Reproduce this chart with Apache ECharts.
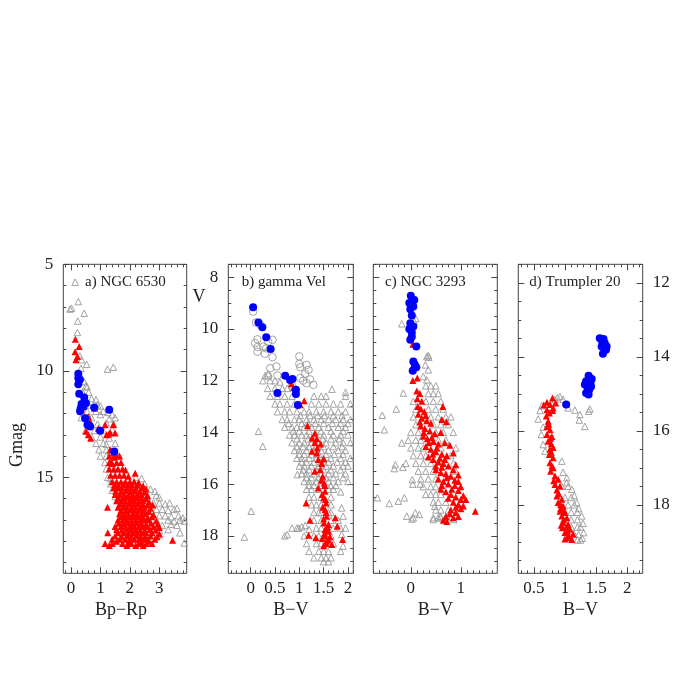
<!DOCTYPE html>
<html>
<head>
<meta charset="utf-8">
<script src="https://cdn.jsdelivr.net/npm/echarts@6/dist/echarts.min.js"></script>
<style>
  html, body { margin: 0; padding: 0; background: #fff; }
  #chart { width: 678px; height: 678px; }
</style>
</head>
<body>
<div id="chart"></div>
<script>
// ---- a) NGC 6530 : Gmag vs Bp-Rp
const ngc6530Field = [
  [0.14,5.84],[0.25,6.75],[0.02,7.06],[-0.03,7.1],[0.45,7.3],[0.23,7.66],[0.22,8.2],[0.3,9.3],[0.36,9.48],
  [0.53,9.69],[0.34,9.88],[1.24,9.92],[1.44,9.83],[0.51,10.7],[0.35,10.3],[0.45,10.5],[0.55,10.75],[0.4,11.0],
  [0.6,11.0],[0.5,11.3],[0.7,11.3],[0.85,11.35],[0.6,11.6],[0.9,11.6],[1.0,11.65],[0.55,11.9],[0.85,11.9],
  [1.1,11.9],[1.25,11.95],[1.0,12.05],[1.4,12.05],[0.35,12.2],[0.7,12.2],[1.3,12.25],[1.5,12.2],[0.6,12.5],
  [0.9,12.5],[1.2,12.45],[1.45,12.5],[0.5,12.8],[0.8,12.8],[1.1,12.8],[1.4,12.75],[0.7,13.1],[1.0,13.1],
  [1.3,13.15],[0.85,13.4],[1.1,13.4],[1.2,13.45],[1.5,13.4],[0.95,13.7],[1.2,13.7],[1.35,13.75],[1.0,14.0],
  [1.2,14.0],[1.45,14.05],[1.6,14.0],[1.15,14.3],[1.35,14.3],[1.2,14.6],[1.5,14.6],[1.25,15.0],[1.35,15.05],
  [2.2,15.0],[2.4,15.05],[1.35,15.3],[2.3,15.3],[2.5,15.3],[1.4,15.6],[2.5,15.6],[2.7,15.55],[2.85,15.65],
  [1.5,15.9],[2.6,15.9],[2.9,15.85],[3.0,15.95],[2.8,16.2],[3.0,16.2],[3.2,16.25],[3.35,16.2],[2.9,16.5],
  [3.1,16.5],[3.3,16.55],[3.5,16.5],[3.6,16.45],[3.0,16.8],[3.2,16.8],[3.4,16.85],[3.65,16.8],[3.8,16.9],
  [2.9,17.0],[3.3,17.0],[3.5,17.05],[3.7,17.0],[3.85,17.05],[3.1,17.25],[3.4,17.2],[3.6,17.25],[2.8,17.5],
  [3.0,17.5],[3.3,17.45],[2.6,17.75],[3.0,17.7],[3.7,17.6],[1.9,18.05],[2.2,18.1],[3.85,18.08]
];
const ngc6530Members = [
  [0.15,8.52],[0.28,8.86],[0.14,9.1],[0.22,9.33],[0.17,9.48],
  [0.36,11.83],[0.59,12.14],[0.65,12.38],[0.51,12.84],[0.59,13.0],[0.67,13.16],[0.93,12.69],[1.16,12.53],
  [1.21,13.0],[1.28,12.98],[1.33,12.89],[1.44,12.53],[1.5,12.92],[0.8,11.75],[1.33,13.7],[1.44,13.86],
  [1.55,14.0],[1.37,14.3],
  [1.3,14.0],[1.45,14.05],[1.65,14.0],
  [1.3,14.3],[1.4,14.35],[1.55,14.3],[1.7,14.3],
  [1.3,14.6],[1.45,14.6],[1.6,14.6],[1.75,14.6],[1.85,14.65],
  [1.35,14.9],[1.5,14.9],[1.65,14.9],[1.8,14.9],[1.95,14.95],[2.18,14.8],
  [1.4,15.2],[1.55,15.2],[1.7,15.2],[1.85,15.2],[2.0,15.2],[2.15,15.2],[2.3,15.25],
  [1.48,15.35],[1.62,15.38],[1.78,15.33],[1.93,15.36],[2.08,15.34],[2.25,15.37],[2.45,15.4],
  [1.45,15.5],[1.6,15.5],[1.75,15.5],[1.9,15.5],[2.05,15.5],[2.2,15.5],[2.4,15.5],[2.55,15.55],
  [1.52,15.65],[1.7,15.67],[1.86,15.63],[2.02,15.66],[2.17,15.64],[2.33,15.68],[2.5,15.7],
  [1.5,15.8],[1.65,15.8],[1.8,15.8],[1.95,15.8],[2.1,15.8],[2.25,15.8],[2.4,15.8],[2.6,15.85],
  [1.6,15.95],[1.77,15.97],[1.92,15.93],[2.07,15.96],[2.22,15.94],[2.38,15.98],[2.55,16.0],
  [1.55,16.1],[1.7,16.1],[1.85,16.1],[2.0,16.1],[2.15,16.1],[2.3,16.1],[2.45,16.1],[2.65,16.15],
  [1.66,16.25],[1.82,16.27],[1.97,16.23],[2.12,16.26],[2.27,16.24],[2.43,16.28],[2.6,16.3],[2.78,16.3],
  [1.24,16.4],[1.6,16.4],[1.75,16.4],[1.9,16.4],[2.05,16.4],[2.2,16.4],[2.35,16.4],[2.5,16.4],[2.7,16.45],
  [1.7,16.55],[1.87,16.57],[2.02,16.53],[2.17,16.56],[2.32,16.54],[2.48,16.58],[2.65,16.6],
  [1.65,16.7],[1.8,16.7],[1.95,16.7],[2.1,16.7],[2.25,16.7],[2.4,16.7],[2.55,16.7],[2.8,16.75],
  [1.68,16.85],[1.83,16.87],[1.98,16.83],[2.13,16.86],[2.28,16.84],[2.43,16.88],[2.6,16.9],[2.75,16.85],
  [1.6,17.0],[1.75,17.0],[1.9,17.0],[2.05,17.0],[2.2,17.0],[2.35,17.0],[2.5,17.0],[2.65,17.0],[2.9,17.05],
  [1.62,17.15],[1.78,17.17],[1.93,17.13],[2.08,17.16],[2.23,17.14],[2.38,17.18],[2.55,17.2],[2.72,17.15],[2.95,17.2],
  [1.5,17.3],[1.7,17.3],[1.85,17.3],[2.0,17.3],[2.15,17.3],[2.3,17.3],[2.45,17.3],[2.6,17.3],[2.8,17.3],[3.0,17.35],
  [1.55,17.45],[1.73,17.47],[1.9,17.43],[2.05,17.46],[2.2,17.44],[2.35,17.48],[2.5,17.5],[2.68,17.45],[2.88,17.47],
  [1.25,17.6],[1.6,17.6],[1.8,17.6],[1.95,17.6],[2.1,17.6],[2.25,17.6],[2.4,17.6],[2.55,17.6],[2.75,17.6],[3.0,17.65],
  [1.5,17.75],[1.72,17.77],[1.9,17.73],[2.05,17.76],[2.22,17.74],[2.37,17.78],[2.52,17.8],[2.7,17.75],[2.92,17.78],
  [1.4,17.9],[1.65,17.9],[1.85,17.9],[2.0,17.9],[2.15,17.9],[2.3,17.9],[2.45,17.9],[2.6,17.9],[2.85,17.9],[3.45,17.95],
  [1.55,18.0],[1.95,18.05],[2.4,18.05],[2.65,18.0],
  [1.16,18.1],[1.4,18.1],[1.75,18.1],[2.05,18.1],[2.3,18.1],[2.55,18.1],[2.75,18.1],
  [1.3,18.2],[1.9,18.2],[2.2,18.2],[2.45,18.2]
];
const ngc6530Blue = [
  [0.25,10.14],[0.25,10.34],[0.3,10.42],[0.25,10.63],[0.28,11.08],[0.45,11.25],[0.36,11.55],[0.51,11.52],
  [0.33,11.75],[0.42,11.68],[0.31,11.9],[0.79,11.72],[1.3,11.83],[0.48,12.22],[0.56,12.53],[0.65,12.61],
  [0.99,12.81],[1.47,13.78]
];
const ngc6530XTicks = [0, 1, 2, 3];
const ngc6530YTicks = [5, 10, 15];

// ---- b) gamma Vel : V vs B-V
const gammaVelField = [
  [0.36,11.73],[0.3,11.8],[0.25,12.0],[0.4,12.0],[0.5,12.0],[0.6,12.05],[0.35,12.3],[0.5,12.3],[0.65,12.3],[0.75,12.3],
  [0.4,12.6],[0.55,12.6],[0.7,12.6],[0.85,12.6],[1.3,12.6],[1.45,12.6],[1.55,12.6],[1.95,12.6],[1.67,12.33],[1.95,12.45],
  [0.5,12.9],[0.6,12.9],[0.75,12.9],[0.9,12.9],[1.25,12.9],[1.4,12.9],[1.55,12.9],[1.7,12.9],[1.85,12.9],[2.05,12.9],
  [0.55,13.2],[0.7,13.2],[0.8,13.2],[0.95,13.2],[1.1,13.2],[1.2,13.2],[1.35,13.2],[1.5,13.2],[1.65,13.2],[1.8,13.2],[1.95,13.2],
  [1.02,13.35],[1.22,13.35],[1.38,13.35],[1.52,13.35],[1.7,13.35],[1.88,13.35],
  [0.65,13.5],[0.75,13.5],[0.9,13.5],[1.0,13.5],[1.15,13.5],[1.3,13.5],[1.45,13.5],[1.6,13.5],[1.75,13.5],[1.9,13.5],[2.05,13.5],
  [0.78,13.65],[1.05,13.65],[1.18,13.65],[1.33,13.65],[1.5,13.65],[1.68,13.65],[1.85,13.65],[2.0,13.65],
  [0.7,13.8],[0.85,13.8],[0.95,13.8],[1.1,13.8],[1.25,13.8],[1.4,13.8],[1.6,13.8],[1.8,13.8],[1.95,13.8],
  [0.88,13.95],[1.0,13.95],[1.2,13.95],[1.45,13.95],[1.65,13.95],[1.9,13.95],
  [0.8,14.1],[0.9,14.1],[1.05,14.1],[1.15,14.1],[1.35,14.1],[1.5,14.1],[1.7,14.1],[1.85,14.1],[2.0,14.1],
  [0.95,14.25],[1.18,14.25],[1.3,14.25],[1.48,14.25],[1.65,14.25],[1.82,14.25],
  [0.85,14.4],[1.0,14.4],[1.1,14.4],[1.25,14.4],[1.4,14.4],[1.55,14.4],[1.75,14.4],[1.9,14.4],[2.05,14.4],
  [0.95,14.55],[1.08,14.55],[1.2,14.55],[1.35,14.55],[1.5,14.55],[1.7,14.55],[1.88,14.55],
  [0.9,14.7],[1.0,14.7],[1.15,14.7],[1.3,14.7],[1.45,14.7],[1.6,14.7],[1.8,14.7],[1.95,14.7],
  [1.0,14.85],[1.1,14.85],[1.25,14.85],[1.4,14.85],[1.55,14.85],[1.72,14.85],[1.9,14.85],
  [0.95,15.0],[1.05,15.0],[1.2,15.0],[1.35,15.0],[1.5,15.0],[1.65,15.0],[1.85,15.0],[2.05,15.0],
  [1.05,15.15],[1.15,15.15],[1.3,15.15],[1.45,15.15],[1.6,15.15],[1.78,15.15],[1.95,15.15],
  [1.0,15.3],[1.1,15.3],[1.25,15.3],[1.4,15.3],[1.55,15.3],[1.7,15.3],[1.9,15.3],[2.0,15.3],
  [1.08,15.45],[1.2,15.45],[1.35,15.45],[1.5,15.45],[1.65,15.45],[1.85,15.45],
  [1.05,15.6],[1.15,15.6],[1.3,15.6],[1.45,15.6],[1.6,15.6],[1.75,15.6],[1.95,15.6],
  [1.15,15.75],[1.25,15.75],[1.4,15.75],[1.55,15.75],[1.7,15.75],[1.9,15.75],
  [1.1,15.9],[1.2,15.9],[1.35,15.9],[1.6,15.9],[1.8,15.9],[2.0,15.9],
  [1.2,16.05],[1.3,16.05],[1.45,16.05],[1.65,16.05],[1.75,16.05],
  [1.15,16.2],[1.25,16.2],[1.4,16.2],[1.6,16.2],[1.7,16.2],[1.85,16.3],
  [1.2,16.5],[1.3,16.5],[1.45,16.5],[1.65,16.5],
  [1.25,16.8],[1.35,16.8],[1.45,16.8],[1.65,16.8],[1.87,16.92],
  [1.3,17.1],[1.4,17.1],[1.45,17.1],[1.6,17.1],[1.65,17.1],[1.9,17.24],
  [1.3,17.4],[1.45,17.4],[1.65,17.4],[1.8,17.4],
  [0.85,17.7],[0.95,17.7],[1.05,17.65],[1.12,17.6],[1.2,17.75],[1.35,17.7],[1.45,17.7],[1.7,17.7],[1.85,17.7],[1.95,17.7],
  [0.75,17.95],[0.7,18.0],[1.1,18.0],[1.3,18.0],[1.4,18.0],[1.65,18.0],[1.87,17.95],
  [1.15,18.3],[1.35,18.3],[1.45,18.3],[1.6,18.3],[1.7,18.3],[1.9,18.4],
  [1.2,18.6],[1.4,18.6],[1.5,18.6],[1.6,18.6],[1.85,18.6],
  [1.3,18.85],[1.45,18.85],[1.55,18.85],[1.65,18.85],[1.5,19.0],[1.6,19.0],
  [0.16,13.96],[0.25,14.54],[0.96,15.63],[0.01,17.05],[-0.13,18.05],[0.99,17.7]
];
const gammaVelOpen = [
  [0.05,9.33],[0.11,9.75],[0.2,9.85],[0.14,10.4],[0.09,10.55],[0.14,10.7],[0.14,10.88],[0.26,10.68],[0.32,10.75],
  [0.36,10.49],[0.45,10.42],[0.29,10.96],[0.45,11.09],[0.4,11.52],[0.53,11.45],[0.36,11.84],[0.55,11.8],
  [1.0,11.06],[1.0,11.35],[1.02,11.48],[1.15,11.39],[1.12,11.73],[1.19,11.58],[1.02,11.9],[1.15,12.1],
  [1.29,12.16],[1.22,11.95],[0.85,12.2],[1.08,12.0]
];
const gammaVelMembers = [
  [0.84,12.12],[0.88,12.27],[1.02,12.93],[1.1,12.78],[1.17,13.74],[1.32,14.03],[1.26,14.22],[1.32,14.39],
  [1.26,14.73],[1.37,14.6],[1.36,14.8],[1.39,15.05],[1.5,15.03],[1.32,15.5],[1.46,15.2],[1.43,15.44],
  [1.48,15.7],[1.51,15.96],[1.39,16.15],[1.53,16.28],[1.5,16.53],[1.55,16.73],[1.14,16.73],[1.53,16.98],
  [1.56,17.24],[1.51,17.5],[1.6,17.56],[1.74,17.3],[1.22,17.4],[1.53,17.76],[1.6,17.82],[1.78,17.63],
  [1.53,18.01],[1.63,18.04],[1.19,17.98],[1.34,18.08],[1.56,18.21],[1.67,18.34],[1.89,18.14],[1.5,18.38],
  [1.48,16.9],[1.55,17.1],[1.5,17.35],[1.58,17.65],[1.52,17.9],[1.6,18.15],[1.55,18.3],[1.47,18.1],
  [1.52,16.05],[1.47,16.4],[1.54,16.6],[1.45,15.85],[1.44,14.45],[1.36,14.25]
];
const gammaVelBlue = [
  [0.05,9.16],[0.16,9.75],[0.24,9.93],[0.32,10.32],[0.41,10.78],[0.71,11.81],[0.81,11.97],[0.86,11.94],
  [0.93,12.35],[0.93,12.52],[0.55,12.48],[0.97,12.94]
];
const gammaVelXTicks = [0, 0.5, 1, 1.5, 2];
const gammaVelYTicks = [8, 10, 12, 14, 16, 18];

// ---- c) NGC 3293 : V vs B-V
const ngc3293Field = [
  [-0.18,7.8],[0.07,7.71],[0.1,7.6],[0.32,9.07],[0.36,9.1],[0.35,9.02],[0.29,9.39],[0.35,9.58],[0.25,9.84],[0.32,9.97],
  [0.3,10.2],[0.4,10.2],[0.5,10.2],[0.35,10.5],[0.45,10.5],[0.55,10.5],
  [0.05,10.8],[0.3,10.8],[0.45,10.8],[0.6,10.8],[0.1,11.1],[0.35,11.1],[0.5,11.1],[0.65,11.1],
  [0.05,11.4],[0.4,11.4],[0.55,11.4],[0.7,11.4],[0.8,11.4],[0.1,11.7],[0.45,11.7],[0.6,11.7],[0.75,11.7],
  [0.0,12.0],[0.15,12.0],[0.5,12.0],[0.65,12.0],[0.85,12.0],[-0.05,12.3],[0.1,12.3],[0.2,12.3],[0.55,12.3],[0.7,12.3],
  [0.0,12.6],[0.15,12.6],[0.25,12.6],[0.6,12.6],[0.9,12.6],[0.05,12.9],[0.2,12.9],[0.3,12.9],[0.8,12.9],
  [-0.1,13.2],[0.1,13.2],[0.25,13.2],[0.4,13.2],[0.85,13.2],[0.15,13.5],[0.3,13.5],[0.45,13.5],[0.9,13.5],
  [0.2,13.8],[0.35,13.8],[0.5,13.8],[0.25,14.1],[0.4,14.1],[0.5,14.1],[0.3,14.4],[0.4,14.4],[0.5,14.4],[0.6,14.4],
  [0.45,14.7],[0.55,14.7],[0.7,14.7],[1.0,14.7],[0.5,15.0],[0.6,15.0],[0.75,15.0],[0.45,15.3],[0.55,15.3],[0.6,15.3],[0.8,15.3],
  [-0.15,10.48],[-0.29,11.1],[-0.57,11.34],[-0.53,11.9],[-0.18,12.41],[-0.31,13.25],[-0.33,13.4],[-0.16,13.35],
  [0.03,13.83],[0.04,14.0],[0.19,14.0],[-0.67,14.53],[-0.43,14.75],[-0.25,14.66],[-0.13,14.53],[-0.08,15.24],
  [0.09,15.11],[0.17,15.17],[0.05,15.3],[0.02,15.35],[0.45,15.37],[0.48,14.86],[0.59,15.24],[0.72,15.27],[0.86,15.37]
];
const ngc3293Members = [
  [0.04,8.59],[0.02,9.52],[0.04,9.99],[0.13,9.9],
  [0.12,10.4],[0.18,10.5],[0.13,10.7],[0.22,10.8],[0.14,11.0],[0.2,11.1],[0.27,11.2],[0.15,11.3],[0.22,11.45],
  [0.32,11.55],[0.4,11.65],[0.71,11.59],[0.62,11.5],[0.64,11.0],[0.2,11.75],[0.28,11.85],[0.38,11.95],[0.48,12.05],
  [0.6,12.0],[0.25,12.15],[0.33,12.25],[0.45,12.35],[0.55,12.45],[0.68,12.4],[0.78,12.5],[0.3,12.55],[0.4,12.65],
  [0.5,12.75],[0.62,12.85],[0.72,12.9],[0.85,12.8],[0.35,12.95],[0.45,13.05],[0.55,13.15],[0.65,13.2],[0.75,13.3],
  [0.9,13.25],[0.5,13.45],[0.6,13.55],[0.7,13.6],[0.8,13.7],[0.95,13.65],[0.55,13.8],[0.65,13.9],[0.75,14.0],
  [0.88,14.05],[1.0,14.1],[0.95,13.9],[0.6,14.2],[0.7,14.3],[0.8,14.4],[0.9,14.5],[1.05,14.45],[0.85,14.7],
  [0.95,14.8],[1.1,14.6],[0.8,15.0],[0.9,15.1],[1.0,14.95],[0.7,15.25],[0.85,15.3],[0.65,15.4],[1.29,15.05],
  [0.18,11.6],[0.3,11.35],[0.26,12.0],[0.42,12.2],[0.36,12.4],[0.52,12.6],[0.44,12.85],[0.58,13.0],[0.68,13.05],
  [0.5,13.3],[0.62,13.35],[0.85,13.45],[0.72,13.75],[0.88,13.85],[0.82,14.2],[0.95,14.25],[0.75,14.55],[1.0,14.6],
  [0.9,14.9],[0.78,15.15],[0.95,15.25],[0.72,15.45],[1.05,14.85],[0.62,14.05]
];
const ngc3293Blue = [
  [0.0,6.72],[0.07,6.88],[-0.03,7.0],[0.05,7.13],[-0.01,7.24],[0.02,7.48],[-0.01,7.78],[0.05,7.91],[-0.03,8.0],
  [0.02,8.14],[0.02,8.3],[-0.01,8.42],[0.11,8.68],[0.05,9.26],[0.08,9.38],[0.11,9.48],[0.04,9.62]
];
const ngc3293XTicks = [0, 1];
const ngc3293YTicks = [6, 8, 10, 12, 14, 16];

// ---- d) Trumpler 20 : V vs B-V
const trumpler20Field = [
  [0.92,15.07],[0.88,15.1],[0.84,15.16],[0.97,15.15],[0.63,15.32],[0.6,15.45],[1.05,15.38],[1.16,15.44],[1.24,15.56],
  [1.23,15.71],[1.32,15.88],[1.38,15.47],[1.4,15.41],[0.57,15.68],[0.65,15.9],[0.62,16.1],[0.65,16.37],[0.68,16.55],
  [0.95,16.82],[0.97,17.12],[1.03,17.27],[1.03,17.4],[1.11,17.58],[1.15,17.75],[1.19,17.94],[1.22,18.1],[1.27,18.3],
  [1.29,18.5],[1.3,18.75],[1.28,18.9],[0.95,17.5],[1.05,17.5],[1.0,17.8],[1.1,17.8],[1.05,18.0],[1.15,18.0],
  [1.1,18.2],[1.2,18.2],[1.1,18.4],[1.2,18.4],[1.1,18.6],[1.2,18.6],[1.25,18.6],[1.15,18.8],[1.22,18.8],[1.2,18.95],[1.25,18.95]
];
const trumpler20Members = [
  [0.8,15.11],[0.71,15.23],[0.76,15.29],[0.81,15.38],[0.71,15.43],[0.75,15.52],[0.8,15.45],[0.66,15.3],[0.85,15.25],
  [0.7,15.6],[0.73,15.74],[0.74,15.82],[0.71,15.88],[0.76,15.97],[0.71,16.1],[0.79,16.15],[0.77,16.2],[0.73,16.28],
  [0.78,16.35],[0.81,16.45],[0.76,16.5],[0.78,16.58],[0.75,16.64],[0.81,16.73],[0.76,16.86],[0.79,16.95],[0.81,17.0],
  [0.77,17.09],[0.84,17.22],[0.89,17.31],[0.82,17.35],[0.84,17.45],[0.92,17.49],[0.87,17.6],[0.9,17.7],[0.87,17.76],
  [0.95,17.85],[0.89,17.94],[0.93,18.0],[0.97,18.03],[0.93,18.1],[0.99,18.15],[0.92,18.17],[1.0,18.21],[0.95,18.3],
  [1.03,18.35],[0.98,18.4],[0.97,18.48],[1.05,18.53],[0.94,18.55],[1.02,18.6],[0.96,18.62],[1.08,18.66],[1.04,18.72],
  [1.0,18.75],[1.13,18.79],[1.06,18.85],[1.03,18.89],[1.0,18.92],[1.11,18.94]
];
const trumpler20Blue = [
  [1.56,13.5],[1.62,13.52],[1.6,13.6],[1.64,13.63],[1.67,13.72],[1.59,13.72],[1.66,13.81],[1.61,13.92],
  [1.38,14.51],[1.4,14.57],[1.43,14.6],[1.34,14.66],[1.41,14.71],[1.32,14.75],[1.36,14.8],[1.42,14.8],
  [1.37,14.85],[1.39,14.89],[1.34,14.98],[1.38,15.02],[1.02,15.29]
];
const trumpler20XTicks = [0.5, 1, 1.5, 2];
const trumpler20YTicks = [12, 14, 16, 18];

const FONT = '"Liberation Serif", "DejaVu Serif", serif';
const INK = '#222';
const FRAME = '#444';

function steps(from, to, step) {
  const out = [];
  for (let v = from; v <= to + 1e-9; v += step) out.push(+v.toFixed(4));
  return out;
}

const panels = [
  { rect: { left: 63.3, top: 264.3, width: 123.4, height: 309 },
    x: [-0.26, 3.93], xMajor: ngc6530XTicks, xMinor: steps(-0.2, 3.8, 0.2),
    y: [5, 19.5], yMajor: ngc6530YTicks, yMinor: steps(5, 19, 1), yLabelSide: 'left',
    field: ngc6530Field, members: ngc6530Members, blue: ngc6530Blue },
  { rect: { left: 228.3, top: 264.3, width: 125, height: 309 },
    x: [-0.46, 2.11], xMajor: gammaVelXTicks, xMinor: steps(-0.4, 2.1, 0.1),
    y: [7.5, 19.45], yMajor: gammaVelYTicks, yMinor: steps(7.5, 19.0, 0.5), yLabelSide: 'left',
    field: gammaVelField, open: gammaVelOpen, members: gammaVelMembers, blue: gammaVelBlue },
  { rect: { left: 373.3, top: 264.3, width: 124, height: 309 },
    x: [-0.75, 1.73], xMajor: ngc3293XTicks, xMinor: steps(-0.75, 1.625, 0.125),
    y: [5.5, 17.45], yMajor: ngc3293YTicks, yMinor: steps(5.5, 17.0, 0.5), yLabelSide: null,
    field: ngc3293Field, members: ngc3293Members, blue: ngc3293Blue },
  { rect: { left: 518.3, top: 264.3, width: 124.4, height: 309 },
    x: [0.25, 2.25], xMajor: trumpler20XTicks, xMinor: steps(0.3, 2.2, 0.1),
    y: [11.5, 19.85], yMajor: trumpler20YTicks, yMinor: steps(11.5, 19.5, 0.5), yLabelSide: 'right',
    field: trumpler20Field, members: trumpler20Members, blue: trumpler20Blue }
];

function makeAxis(gridIndex, position, lim, ticks, len, labels, inverse) {
  return {
    type: 'value', gridIndex, position, min: lim[0], max: lim[1], inverse: !!inverse,
    axisLine: { show: false, onZero: false },
    splitLine: { show: false },
    axisTick: { show: true, inside: true, length: len, customValues: ticks,
                lineStyle: { color: FRAME, width: 1 } },
    axisLabel: labels
      ? { show: true, customValues: labels, margin: position === 'bottom' ? 7 : 10,
          color: INK, fontFamily: FONT, fontSize: 17 }
      : { show: false }
  };
}

const grids = [], xAxes = [], yAxes = [], series = [];
panels.forEach((p, i) => {
  grids.push(Object.assign({ show: true, borderColor: FRAME, borderWidth: 1, containLabel: false }, p.rect));
  xAxes.push(makeAxis(i, 'bottom', p.x, p.xMajor, 6, p.xMajor));
  xAxes.push(makeAxis(i, 'bottom', p.x, p.xMinor, 3, null));
  xAxes.push(makeAxis(i, 'top', p.x, p.xMajor, 6, null));
  xAxes.push(makeAxis(i, 'top', p.x, p.xMinor, 3, null));
  yAxes.push(makeAxis(i, 'left', p.y, p.yMajor, 6, p.yLabelSide === 'left' ? p.yMajor : null, true));
  yAxes.push(makeAxis(i, 'left', p.y, p.yMinor, 3, null, true));
  yAxes.push(makeAxis(i, 'right', p.y, p.yMajor, 6, p.yLabelSide === 'right' ? p.yMajor : null, true));
  yAxes.push(makeAxis(i, 'right', p.y, p.yMinor, 3, null, true));
  const ax = { xAxisIndex: 4 * i, yAxisIndex: 4 * i, type: 'scatter', silent: true };
  series.push(Object.assign({ data: p.field, symbol: 'triangle', symbolSize: 6.5,
    itemStyle: { color: 'rgba(0,0,0,0)', borderColor: '#999', borderWidth: 0.9, opacity: 1 } }, ax));
  if (p.open) {
    series.push(Object.assign({ data: p.open, symbol: 'circle', symbolSize: 7.5,
      itemStyle: { color: 'rgba(0,0,0,0)', borderColor: '#999', borderWidth: 0.9, opacity: 1 } }, ax));
  }
  series.push(Object.assign({ data: p.members, symbol: 'triangle', symbolSize: 7,
    itemStyle: { color: '#ff0000', opacity: 1 } }, ax));
  series.push(Object.assign({ data: p.blue, symbol: 'circle', symbolSize: 8,
    itemStyle: { color: '#0000ff', opacity: 1 } }, ax));
});

function txt(x, y, text, size, align, rotation) {
  return { type: 'text', x, y, rotation: rotation || 0, silent: true,
    style: { text, fill: INK, font: size + 'px ' + FONT, textAlign: align || 'center', textVerticalAlign: 'middle' } };
}

const chart = echarts.init(document.getElementById('chart'));
chart.setOption({
  animation: false,
  backgroundColor: '#fff',
  grid: grids,
  xAxis: xAxes,
  yAxis: yAxes,
  series,
  graphic: [
    txt(17, 445, 'Gmag', 18, 'center', Math.PI / 2),
    txt(199, 297, 'V', 18),
    txt(121, 610, 'Bp\u2212Rp', 18),
    txt(290.8, 610, 'B\u2212V', 18),
    txt(435.3, 610, 'B\u2212V', 18),
    txt(580.5, 610, 'B\u2212V', 18),
    txt(85, 282, 'a) NGC 6530', 15, 'left'),
    txt(241.7, 282, 'b) gamma Vel', 15, 'left'),
    txt(385, 282, 'c) NGC 3293', 15, 'left'),
    txt(529.3, 282, 'd) Trumpler 20', 15, 'left')
  ]
});
</script>
</body>
</html>
